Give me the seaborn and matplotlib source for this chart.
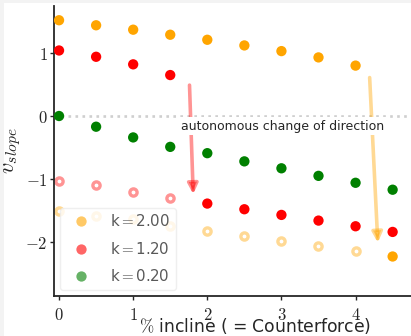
import numpy as np
import pandas as pd
import matplotlib
matplotlib.use("Agg")
import matplotlib.pyplot as plt
from matplotlib.patches import Rectangle
from matplotlib.ticker import FuncFormatter
import seaborn as sns

# incline values (percent)
incline = [0, 0.5, 1, 1.5, 2, 2.5, 3, 3.5, 4, 4.5]

# k = 2.00 : actual velocities and the mirrored (reverse) branch
k200_v = [1.52, 1.44, 1.37, 1.29, 1.21, 1.12, 1.03, 0.93, 0.80, -2.23]
k200_rev_x = [0, 0.5, 1, 1.5, 2, 2.5, 3, 3.5, 4]
k200_rev_v = [-1.50, -1.59, -1.64, -1.74, -1.82, -1.90, -1.98, -2.06, -2.14]

# k = 1.20
k120_v = [1.04, 0.94, 0.82, 0.65, -1.39, -1.48, -1.57, -1.66, -1.75, -1.84]
k120_rev_x = [0, 0.5, 1, 1.5]
k120_rev_v = [-1.03, -1.10, -1.21, -1.30]

# k = 0.20
k020_v = [0.00, -0.17, -0.34, -0.49, -0.59, -0.72, -0.83, -0.95, -1.06, -1.17]

k_labels = ["k${=}$2.00", "k${=}$1.20", "k${=}$0.20"]
k_colors = ["orange", "red", "green"]

x_ticks = [0, 1, 2, 3, 4]
y_ticks = [-2, -1, 0, 1]

sns.set_style("ticks")
plt.rcParams["font.family"] = ["DejaVu Sans"]
plt.rcParams["mathtext.fontset"] = "cm"

fig = plt.figure(figsize=(4.11, 3.36), dpi=100)
# the axes run past the right edge of the canvas
ax = fig.add_axes([54 / 411, 40 / 336, (446 - 54) / 411, (296 - 6) / 336])

# thin page margin strips along the top and left edges
fig.patches.append(Rectangle((0, 0), 4 / 411, 1, transform=fig.transFigure,
                             facecolor="#f3f3f3", edgecolor="none", zorder=-10))
fig.patches.append(Rectangle((0, 1 - 3 / 336), 1, 3 / 336, transform=fig.transFigure,
                             facecolor="#f3f3f3", edgecolor="none", zorder=-10))

ax.axhline(0, color="#cfcfcf", ls=":", lw=1.9, zorder=0)

filled = pd.DataFrame({
    "incline": incline * 3,
    "v": k200_v + k120_v + k020_v,
    "k": [k_labels[0]] * 10 + [k_labels[1]] * 10 + [k_labels[2]] * 10,
})
rev = pd.DataFrame({
    "incline": k200_rev_x + k120_rev_x,
    "v": k200_rev_v + k120_rev_v,
    "k": [k_labels[0]] * len(k200_rev_x) + [k_labels[1]] * len(k120_rev_x),
})

palette = dict(zip(k_labels, k_colors))

for lab in k_labels[:2]:
    sub = rev[rev["k"] == lab]
    sns.scatterplot(data=sub, x="incline", y="v", ax=ax, s=27, marker="o",
                    facecolor="white", edgecolor=palette[lab], linewidth=2.4,
                    alpha=0.42, legend=False, zorder=2)

sns.scatterplot(data=filled, x="incline", y="v", hue="k", hue_order=k_labels,
                palette=palette, s=55, linewidth=0, ax=ax, zorder=3)

# arrows marking the switch of direction
ax.annotate("", xy=(1.81, -1.24), xytext=(1.76, 0.49),
            arrowprops=dict(arrowstyle="-|>", color="red", alpha=0.42, lw=2.6,
                            mutation_scale=15, shrinkA=0, shrinkB=0), zorder=4)
ax.annotate("", xy=(4.30, -2.01), xytext=(4.19, 0.61),
            arrowprops=dict(arrowstyle="-|>", color="orange", alpha=0.42, lw=2.6,
                            mutation_scale=15, shrinkA=0, shrinkB=0), zorder=4)
ax.text(1.65, -0.16, "autonomous change of direction", fontsize=9,
        ha="left", va="center", zorder=5,
        bbox=dict(facecolor="white", edgecolor="none", pad=1.5))

ax.set_xlim(-0.068, 5.22)
ax.set_ylim(-2.857, 1.746)
ax.set_xticks(x_ticks)
ax.set_yticks(y_ticks)
fmt = FuncFormatter(lambda v, p: f"${v:g}$")
ax.xaxis.set_major_formatter(fmt)
ax.yaxis.set_major_formatter(fmt)
ax.tick_params(labelsize=12, length=3, width=1, pad=1.5)
ax.tick_params(axis="x", pad=4)
sns.despine(ax=ax)
for sp in ("left", "bottom"):
    ax.spines[sp].set_linewidth(1.3)
    ax.spines[sp].set_color("0.15")

ax.set_xlabel(r"$\%$ incline ( = Counterforce)", fontsize=12.3)
ax.xaxis.set_label_coords(0.512, -0.068)
ax.set_ylabel(r"$v_{slope}$", fontsize=16, labelpad=2)

handles, labels = ax.get_legend_handles_labels()
for h in handles:
    h.set_alpha(0.6)
leg = ax.legend(handles, labels, loc="lower left", fontsize=10.8,
                labelcolor="0.35", framealpha=0.8, edgecolor="0.92",
                bbox_to_anchor=(0.0, 0.0), bbox_transform=ax.transAxes,
                borderaxespad=0.4, handletextpad=0.9, labelspacing=0.75)

fig.savefig("out.png", dpi=100)
